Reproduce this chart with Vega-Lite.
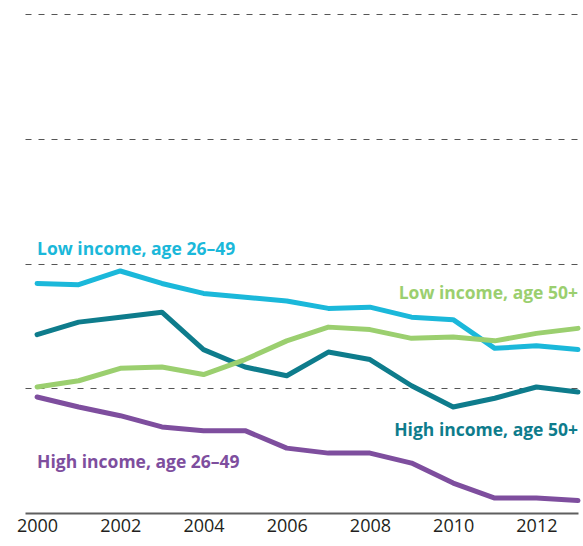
{
  "$schema": "https://vega.github.io/schema/vega-lite/v6.json",
  "width": 553,
  "height": 499,
  "autosize": "none",
  "padding": {"left": 25, "top": 14, "right": 5, "bottom": 33},
  "background": "white",
  "config": {"view": {"stroke": null}, "font": "Open Sans"},
  "datasets": {
    "series": [
      {"year": 2000, "group": "Low income, age 26–49", "value": 1.84},
      {"year": 2001, "group": "Low income, age 26–49", "value": 1.83},
      {"year": 2002, "group": "Low income, age 26–49", "value": 1.94},
      {"year": 2003, "group": "Low income, age 26–49", "value": 1.84},
      {"year": 2004, "group": "Low income, age 26–49", "value": 1.76},
      {"year": 2005, "group": "Low income, age 26–49", "value": 1.73},
      {"year": 2006, "group": "Low income, age 26–49", "value": 1.70},
      {"year": 2007, "group": "Low income, age 26–49", "value": 1.64},
      {"year": 2008, "group": "Low income, age 26–49", "value": 1.65},
      {"year": 2009, "group": "Low income, age 26–49", "value": 1.57},
      {"year": 2010, "group": "Low income, age 26–49", "value": 1.55},
      {"year": 2011, "group": "Low income, age 26–49", "value": 1.32},
      {"year": 2012, "group": "Low income, age 26–49", "value": 1.34},
      {"year": 2013, "group": "Low income, age 26–49", "value": 1.31},
      {"year": 2000, "group": "High income, age 50+", "value": 1.43},
      {"year": 2001, "group": "High income, age 50+", "value": 1.53},
      {"year": 2002, "group": "High income, age 50+", "value": 1.57},
      {"year": 2003, "group": "High income, age 50+", "value": 1.61},
      {"year": 2004, "group": "High income, age 50+", "value": 1.31},
      {"year": 2005, "group": "High income, age 50+", "value": 1.17},
      {"year": 2006, "group": "High income, age 50+", "value": 1.10},
      {"year": 2007, "group": "High income, age 50+", "value": 1.29},
      {"year": 2008, "group": "High income, age 50+", "value": 1.23},
      {"year": 2009, "group": "High income, age 50+", "value": 1.02},
      {"year": 2010, "group": "High income, age 50+", "value": 0.85},
      {"year": 2011, "group": "High income, age 50+", "value": 0.92},
      {"year": 2012, "group": "High income, age 50+", "value": 1.01},
      {"year": 2013, "group": "High income, age 50+", "value": 0.97},
      {"year": 2000, "group": "Low income, age 50+", "value": 1.01},
      {"year": 2001, "group": "Low income, age 50+", "value": 1.06},
      {"year": 2002, "group": "Low income, age 50+", "value": 1.16},
      {"year": 2003, "group": "Low income, age 50+", "value": 1.17},
      {"year": 2004, "group": "Low income, age 50+", "value": 1.11},
      {"year": 2005, "group": "Low income, age 50+", "value": 1.23},
      {"year": 2006, "group": "Low income, age 50+", "value": 1.38},
      {"year": 2007, "group": "Low income, age 50+", "value": 1.49},
      {"year": 2008, "group": "Low income, age 50+", "value": 1.47},
      {"year": 2009, "group": "Low income, age 50+", "value": 1.40},
      {"year": 2010, "group": "Low income, age 50+", "value": 1.41},
      {"year": 2011, "group": "Low income, age 50+", "value": 1.38},
      {"year": 2012, "group": "Low income, age 50+", "value": 1.44},
      {"year": 2013, "group": "Low income, age 50+", "value": 1.48},
      {"year": 2000, "group": "High income, age 26–49", "value": 0.93},
      {"year": 2001, "group": "High income, age 26–49", "value": 0.85},
      {"year": 2002, "group": "High income, age 26–49", "value": 0.78},
      {"year": 2003, "group": "High income, age 26–49", "value": 0.69},
      {"year": 2004, "group": "High income, age 26–49", "value": 0.66},
      {"year": 2005, "group": "High income, age 26–49", "value": 0.66},
      {"year": 2006, "group": "High income, age 26–49", "value": 0.52},
      {"year": 2007, "group": "High income, age 26–49", "value": 0.48},
      {"year": 2008, "group": "High income, age 26–49", "value": 0.48},
      {"year": 2009, "group": "High income, age 26–49", "value": 0.40},
      {"year": 2010, "group": "High income, age 26–49", "value": 0.24},
      {"year": 2011, "group": "High income, age 26–49", "value": 0.12},
      {"year": 2012, "group": "High income, age 26–49", "value": 0.12},
      {"year": 2013, "group": "High income, age 26–49", "value": 0.10}
    ],
    "labelsLeft": [
      {"year": 2000, "value": 2.07, "group": "Low income, age 26–49"},
      {"year": 2000, "value": 0.36, "group": "High income, age 26–49"}
    ],
    "labelsRight": [
      {"year": 2013, "value": 1.715, "group": "Low income, age 50+"},
      {"year": 2013, "value": 0.617, "group": "High income, age 50+"}
    ]
  },
  "encoding": {
    "x": {
      "field": "year", "type": "quantitative",
      "scale": {"domain": [1999.71, 2013], "nice": false, "zero": false},
      "axis": {
        "title": null, "values": [2000, 2002, 2004, 2006, 2008, 2010, 2012],
        "format": "d", "ticks": false, "grid": false,
        "domainColor": "#5f5f5f", "domainWidth": 2,
        "labelFontSize": 18, "labelColor": "#231f20", "labelPadding": 4,
        "labelFont": "Open Sans"
      }
    },
    "y": {
      "field": "value", "type": "quantitative",
      "scale": {"domain": [0, 4], "nice": false},
      "axis": {
        "title": null, "labels": false, "ticks": false, "domain": false,
        "values": [1, 2, 3, 4], "grid": true, "gridColor": "#555555",
        "gridDash": [6, 7], "gridWidth": 1
      }
    },
    "color": {
      "field": "group", "type": "nominal", "legend": null,
      "scale": {
        "domain": ["Low income, age 26–49", "Low income, age 50+", "High income, age 50+", "High income, age 26–49"],
        "range": ["#1bb8da", "#9bcf6f", "#0e7c8c", "#7e4e9e"]
      }
    }
  },
  "layer": [
    {
      "data": {"name": "series"},
      "mark": {"type": "line", "strokeWidth": 5, "strokeCap": "round", "strokeJoin": "round"}
    },
    {
      "data": {"name": "labelsLeft"},
      "mark": {"type": "text", "fontSize": 17.5, "fontWeight": "bold", "baseline": "alphabetic", "align": "left", "font": "Open Sans"},
      "encoding": {"text": {"field": "group"}}
    },
    {
      "data": {"name": "labelsRight"},
      "mark": {"type": "text", "fontSize": 17.5, "fontWeight": "bold", "baseline": "alphabetic", "align": "right", "font": "Open Sans"},
      "encoding": {"text": {"field": "group"}}
    }
  ]
}
